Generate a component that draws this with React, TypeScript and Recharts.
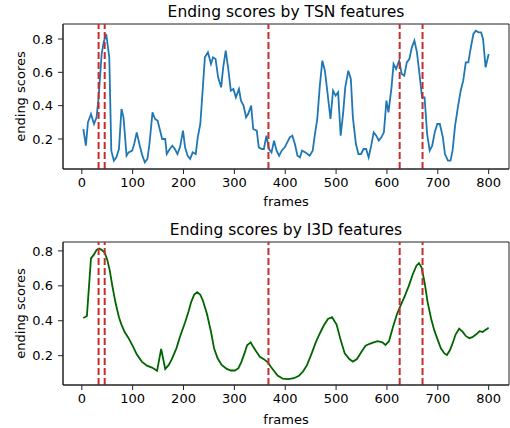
import { LineChart, Line, XAxis, YAxis, ReferenceLine, ReferenceArea } from 'recharts';

const FONT = '"DejaVu Sans", sans-serif';
const SPINE = '#222';
const CUT_COLOR = '#c62d2d';

// frames where the dashed boundary lines are drawn
const cutFrames = [33, 45, 367, 625, 670];
const xTicks = [0, 100, 200, 300, 400, 500, 600, 700, 800];
const yTicks = [0.2, 0.4, 0.6, 0.8];

const tsnFrames = [
  3, 8, 12, 18, 24, 29, 33, 39, 43, 48, 54, 58, 63, 68, 73, 78, 82, 88, 92, 99,
  103, 108, 114, 119, 124, 129, 133, 139, 144, 149, 154, 158, 164, 167, 173, 178, 183, 188, 193, 199,
  203, 208, 213, 218, 224, 228, 233, 238, 242, 248, 254, 258, 263, 268, 274, 278, 283, 288, 293, 298,
  303, 309, 313, 318, 323, 327, 333, 337, 344, 348, 354, 358, 363, 368, 373, 378, 383, 388, 393, 399,
  404, 409, 414, 419, 424, 429, 433, 439, 444, 448, 454, 458, 463, 468, 473, 478, 483, 489, 494, 499,
  504, 509, 514, 518, 524, 529, 533, 539, 544, 549, 554, 559, 564, 569, 574, 579, 584, 589, 594, 599,
  603, 609, 613, 618, 624, 629, 634, 639, 644, 649, 654, 659, 664, 669, 674, 679, 684, 689, 694, 699,
  704, 710, 714, 720, 725, 729, 734, 740, 745, 750, 755, 760, 765, 770, 775, 780, 785, 789, 794, 800,
];
const tsnScores = [
  0.26, 0.16, 0.3, 0.35, 0.29, 0.33, 0.45, 0.71, 0.78, 0.83, 0.69, 0.13, 0.07, 0.09, 0.14, 0.38, 0.33, 0.1, 0.12, 0.13,
  0.17, 0.24, 0.16, 0.1, 0.06, 0.08, 0.17, 0.36, 0.32, 0.31, 0.25, 0.2, 0.2, 0.11, 0.14, 0.16, 0.14, 0.11, 0.15, 0.25,
  0.15, 0.1, 0.08, 0.12, 0.11, 0.21, 0.29, 0.51, 0.69, 0.72, 0.65, 0.69, 0.68, 0.57, 0.51, 0.63, 0.73, 0.62, 0.49, 0.5,
  0.45, 0.5, 0.43, 0.4, 0.33, 0.35, 0.4, 0.26, 0.25, 0.15, 0.14, 0.14, 0.22, 0.14, 0.12, 0.19, 0.13, 0.1, 0.13, 0.15,
  0.18, 0.21, 0.22, 0.17, 0.1, 0.09, 0.13, 0.12, 0.11, 0.1, 0.13, 0.22, 0.32, 0.52, 0.67, 0.61, 0.48, 0.32, 0.49, 0.46,
  0.48, 0.22, 0.36, 0.51, 0.61, 0.56, 0.33, 0.17, 0.11, 0.11, 0.14, 0.14, 0.09, 0.16, 0.24, 0.22, 0.19, 0.21, 0.24, 0.43,
  0.36, 0.51, 0.65, 0.62, 0.67, 0.59, 0.58, 0.66, 0.68, 0.75, 0.79, 0.72, 0.59, 0.45, 0.45, 0.23, 0.13, 0.16, 0.24, 0.29,
  0.29, 0.21, 0.11, 0.07, 0.07, 0.13, 0.28, 0.4, 0.49, 0.55, 0.66, 0.66, 0.75, 0.83, 0.85, 0.84, 0.84, 0.8, 0.63, 0.71,
];

const i3dFrames = [
  3, 10, 18, 24, 29, 34, 39, 45, 50, 55, 60, 66, 73, 78, 84, 92, 101, 108, 118, 128,
  138, 148, 156, 164, 171, 177, 186, 193, 203, 210, 215, 221, 227, 233, 238, 246, 254, 260, 267, 275,
  285, 293, 301, 308, 314, 321, 325, 332, 337, 344, 350, 358, 366, 372, 378, 385, 395, 406, 417, 427,
  435, 443, 452, 460, 468, 476, 484, 492, 501, 509, 517, 526, 533, 541, 550, 558, 566, 574, 582, 591,
  597, 604, 612, 620, 627, 635, 643, 651, 658, 663, 668, 674, 680, 687, 693, 700, 706, 713, 718, 724,
  729, 735, 742, 749, 755, 762, 768, 775, 782, 788, 795, 800,
];
const i3dScores = [
  0.416, 0.427, 0.757, 0.78, 0.806, 0.814, 0.806, 0.79, 0.75, 0.687, 0.6, 0.507, 0.42, 0.378, 0.337, 0.3, 0.25, 0.208, 0.166, 0.143,
  0.132, 0.113, 0.238, 0.124, 0.147, 0.18, 0.242, 0.308, 0.39, 0.454, 0.507, 0.55, 0.564, 0.549, 0.516, 0.44, 0.337, 0.242, 0.185, 0.147,
  0.124, 0.115, 0.115, 0.128, 0.166, 0.223, 0.26, 0.276, 0.251, 0.219, 0.194, 0.18, 0.16, 0.135, 0.112, 0.086, 0.068, 0.066, 0.071, 0.085,
  0.109, 0.147, 0.213, 0.276, 0.327, 0.374, 0.41, 0.42, 0.378, 0.289, 0.213, 0.181, 0.166, 0.181, 0.223, 0.257, 0.268, 0.276, 0.283, 0.276,
  0.261, 0.283, 0.365, 0.44, 0.488, 0.541, 0.6, 0.668, 0.715, 0.73, 0.706, 0.62, 0.507, 0.41, 0.346, 0.289, 0.242, 0.213, 0.204, 0.232,
  0.27, 0.321, 0.355, 0.336, 0.313, 0.3, 0.306, 0.321, 0.34, 0.336, 0.35, 0.36,
];

const tsnData = tsnFrames.map((f, i) => ({ frame: f, score: tsnScores[i] }));
const i3dData = i3dFrames.map((f, i) => ({ frame: f, score: i3dScores[i] }));

const X_DOMAIN: [number, number] = [-37, 840];
const tickStyle = { fontSize: 13, fill: '#000', fontFamily: FONT };

function Panel({
  title,
  data,
  color,
  yDomain,
  top,
  height,
  marginTop,
  xAxisHeight,
  labelOffset,
}: {
  title: string;
  data: { frame: number; score: number }[];
  color: string;
  yDomain: [number, number];
  top: number;
  height: number;
  marginTop: number;
  xAxisHeight: number;
  labelOffset: number;
}) {
  return (
    <div style={{ position: 'absolute', left: 0, top, width: 510, height }}>
      <div
        style={{
          position: 'absolute',
          left: 63,
          width: 446,
          top: marginTop - 21,
          textAlign: 'center',
          fontFamily: FONT,
          fontSize: 15.5,
          lineHeight: '18px',
          color: '#000',
        }}
      >
        {title}
      </div>
      <LineChart width={510} height={height} data={data} margin={{ top: marginTop, right: 1, bottom: 0, left: 0 }}>
        <XAxis
          dataKey="frame"
          type="number"
          domain={X_DOMAIN}
          ticks={xTicks}
          allowDataOverflow
          height={xAxisHeight}
          tick={tickStyle}
          tickSize={5}
          tickMargin={4}
          stroke={SPINE}
          label={{ value: 'frames', position: 'insideBottom', offset: labelOffset, style: { fontSize: 13, fill: '#000', fontFamily: FONT } }}
        />
        <YAxis
          type="number"
          domain={yDomain}
          ticks={yTicks}
          allowDataOverflow
          width={63}
          tick={tickStyle}
          tickSize={5}
          tickMargin={5}
          stroke={SPINE}
          tickFormatter={(v: number) => v.toFixed(1)}
          label={{
            value: 'ending scores',
            angle: -90,
            position: 'insideLeft',
            offset: 20,
            style: { textAnchor: 'middle', fontSize: 13, fill: '#000', fontFamily: FONT },
          }}
        />
        <ReferenceArea
          x1={X_DOMAIN[0]}
          x2={X_DOMAIN[1]}
          y1={yDomain[0]}
          y2={yDomain[1]}
          fill="none"
          stroke={SPINE}
          strokeWidth={1}
          ifOverflow="visible"
        />
        <Line
          type="linear"
          dataKey="score"
          stroke={color}
          strokeWidth={1.8}
          dot={false}
          isAnimationActive={false}
        />
        {cutFrames.map((f) => (
          <ReferenceLine key={f} x={f} stroke={CUT_COLOR} strokeWidth={2} strokeDasharray="7 3" />
        ))}
      </LineChart>
    </div>
  );
}

export default function App() {
  return (
    <div style={{ position: 'absolute', left: 0, top: 0, width: 510, height: 428, background: '#fff' }}>
      <Panel
        title="Ending scores by TSN features"
        data={tsnData}
        color="#1f77b4"
        yDomain={[0.02, 0.89]}
        top={0}
        height={209}
        marginTop={24}
        xAxisHeight={40}
        labelOffset={3}
      />
      <Panel
        title="Ending scores by I3D features"
        data={i3dData}
        color="#006400"
        yDomain={[0.032, 0.851]}
        top={209}
        height={219}
        marginTop={33}
        xAxisHeight={43}
        labelOffset={4}
      />
    </div>
  );
}
